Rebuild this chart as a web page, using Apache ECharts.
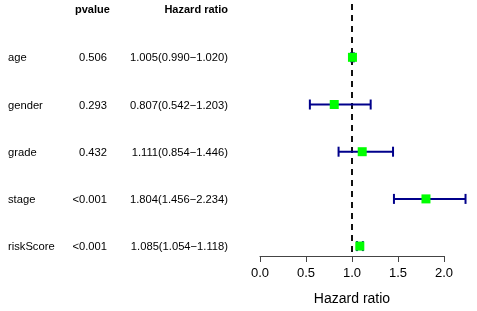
<!DOCTYPE html>
<html>
<head>
<meta charset="utf-8">
<script src="https://cdn.jsdelivr.net/npm/echarts@6/dist/echarts.min.js"></script>
<style>
  html, body { margin: 0; padding: 0; background: #fff; }
  #chart { width: 477px; height: 311px; }
</style>
</head>
<body>
<div id="chart"></div>
<script>
// forest plot data
const variables = ['age', 'gender', 'grade', 'stage', 'riskScore'];
const pvalues = ['0.506', '0.293', '0.432', '<0.001', '<0.001'];
const hazard = [1.005, 0.807, 1.111, 1.804, 1.085];
const lower = [0.990, 0.542, 0.854, 1.456, 1.054];
const upper = [1.020, 1.203, 1.446, 2.234, 1.118];
const xTicks = [0, 0.5, 1, 1.5, 2];

const font = '"Liberation Sans", Arial, sans-serif';
const chart = echarts.init(document.getElementById('chart'));

const rows = variables.map((name, i) => [hazard[i], i + 1, lower[i], upper[i], i]);

const renderItem = (params, api) => {
  const i = api.value(4);
  const y = api.coord([0, api.value(1)])[1];
  const pt = api.coord([api.value(0), api.value(1)]);
  const lo = api.coord([api.value(2), api.value(1)])[0];
  const hi = api.coord([api.value(3), api.value(1)])[0];
  const blue = '#00008B';
  const txt = (x, s, align) => ({
    type: 'text',
    style: { x, y: y + 1, text: s, align, verticalAlign: 'middle', font: '11.2px ' + font, fill: '#000' },
  });
  return {
    type: 'group',
    children: [
      txt(8, variables[i], 'left'),
      txt(107, pvalues[i], 'right'),
      txt(228, `${hazard[i].toFixed(3)}(${lower[i].toFixed(3)}\u2212${upper[i].toFixed(3)})`, 'right'),
      { type: 'line', shape: { x1: lo, y1: y, x2: hi, y2: y }, style: { stroke: blue, lineWidth: 2 } },
      { type: 'line', shape: { x1: lo, y1: y - 5, x2: lo, y2: y + 5 }, style: { stroke: blue, lineWidth: 2 } },
      { type: 'line', shape: { x1: hi, y1: y - 5, x2: hi, y2: y + 5 }, style: { stroke: blue, lineWidth: 2 } },
      { type: 'rect', shape: { x: pt[0] - 4.5, y: y - 4.5, width: 9, height: 9 }, style: { fill: '#00FF00' } },
    ],
  };
};

chart.setOption({
  animation: false,
  grid: { left: 260, width: 184, top: 4, bottom: 52 },
  xAxis: {
    type: 'value',
    position: 'bottom',
    min: 0,
    max: 2,
    interval: 0.5,
    name: 'Hazard ratio',
    nameLocation: 'middle',
    nameGap: 36,
    nameTextStyle: { fontFamily: font, fontSize: 14, color: '#000' },
    axisLine: { show: true, onZero: false, lineStyle: { color: '#444', width: 1 } },
    axisTick: { show: true, length: 6, lineStyle: { color: '#444' } },
    axisLabel: {
      margin: 11,
      fontFamily: font,
      fontSize: 13,
      color: '#000',
      formatter: (v) => v.toFixed(1),
    },
    splitLine: { show: false },
  },
  yAxis: {
    type: 'value',
    inverse: true,
    min: -0.13,
    max: 5.21,
    show: false,
  },
  graphic: [
    { type: 'text', left: 75, top: 4, style: { text: 'pvalue', font: 'bold 11px ' + font, fill: '#000' } },
    { type: 'text', right: 249, top: 4, style: { text: 'Hazard ratio', font: 'bold 11px ' + font, fill: '#000' } },
  ],
  series: [
    {
      // reference line at HR = 1, kept under the error bars
      type: 'line',
      data: [],
      z: 1,
      markLine: {
        silent: true,
        symbol: 'none',
        label: { show: false },
        lineStyle: { color: '#111', width: 2, type: [6, 5] },
        data: [{ xAxis: 1 }],
      },
    },
    {
      type: 'custom',
      clip: false,
      data: rows,
      renderItem,
      encode: { x: 0, y: 1 },
      z: 5,
    },
  ],
});
</script>
</body>
</html>
